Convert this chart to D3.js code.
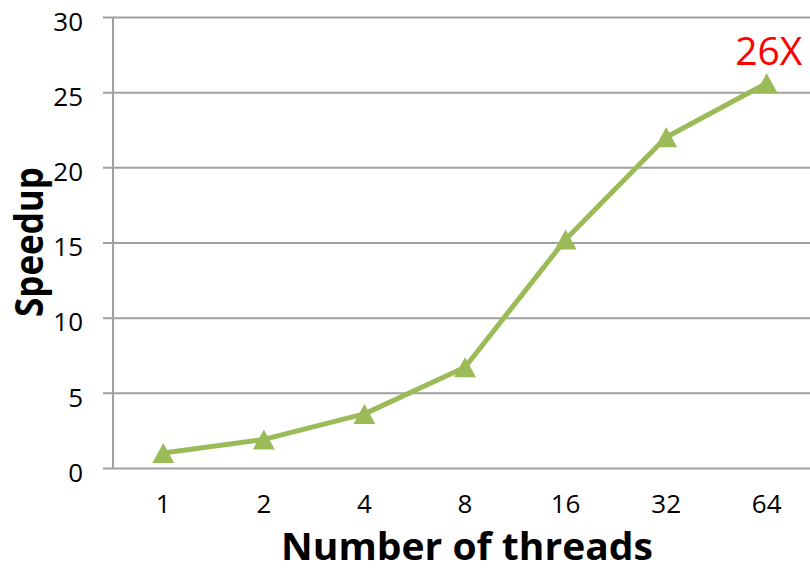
<!DOCTYPE html>
<html>
<head>
<meta charset="utf-8">
<script src="https://cdn.jsdelivr.net/npm/d3@7"></script>
<style>
  html, body { margin: 0; padding: 0; background: #fff; }
  svg { display: block; }
</style>
</head>
<body>
<svg id="chart" width="810" height="571"></svg>
<script>
const categories = ["1", "2", "4", "8", "16", "32", "64"];
const speedup = [1.0, 1.9, 3.6, 6.7, 15.2, 22.0, 25.6];
const yTicks = [0, 5, 10, 15, 20, 25, 30];
const xTitle = "Number of threads";
const yTitle = "Speedup";
const annotation = "26X";

(function () {
const svg = d3.select("#chart");
const W = 810, H = 571;
const mLeft = 113, mRight = 817, mTop = 17, mBottom = 468;
const font = "'Open Sans', 'DejaVu Sans', sans-serif";
const green = "#9BBB59";
const grid = "#A0A0A0";

const x = d3.scaleBand().domain(categories).range([mLeft, mRight]).padding(0);
const y = d3.scaleLinear().domain([0, 30]).range([mBottom, mTop]);

// gridlines via axis
const yAxis = d3.axisLeft(y).tickValues(yTicks).tickSize(-(W - mLeft)).tickPadding(30).tickFormat(d3.format("d"));
const gy = svg.append("g").attr("transform", `translate(${mLeft},0)`).call(yAxis);
gy.select(".domain").remove();
gy.selectAll(".tick line").attr("stroke", grid).attr("stroke-width", 2).attr("x1", -10);
gy.selectAll(".tick text")
  .attr("font-family", font).attr("font-size", 26).attr("fill", "#000")
  .attr("dy", "0.72em").attr("y", -5.5);

// y axis line
svg.append("line").attr("x1", mLeft).attr("x2", mLeft).attr("y1", y(30)).attr("y2", y(0))
  .attr("stroke", grid).attr("stroke-width", 2);

// x axis labels
const xAxis = d3.axisBottom(x).tickSize(0).tickPadding(26);
const gx = svg.append("g").attr("transform", `translate(0,${mBottom})`).call(xAxis);
gx.select(".domain").remove();
gx.selectAll(".tick text").attr("font-family", font).attr("font-size", 26).attr("fill", "#000")
  .attr("dy", "0.72em");

// line
const data = categories.map((c, i) => ({ c, v: speedup[i] }));
const line = d3.line().x(d => x(d.c) + x.bandwidth() / 2).y(d => y(d.v));
svg.append("path").datum(data).attr("d", line)
  .attr("fill", "none").attr("stroke", green).attr("stroke-width", 5).attr("stroke-linejoin", "round");

// triangle markers
const tw = 22, th = 20;
svg.selectAll("path.marker").data(data).enter().append("path")
  .attr("class", "marker")
  .attr("d", d => {
    const cx = x(d.c) + x.bandwidth() / 2, cy = y(d.v);
    return `M${cx},${cy - th / 2}L${cx + tw / 2},${cy + th / 2}L${cx - tw / 2},${cy + th / 2}Z`;
  })
  .attr("fill", green);

// annotation
const last = data[data.length - 1];
svg.append("text")
  .attr("x", x(last.c) + x.bandwidth() / 2 + 2)
  .attr("y", 65)
  .attr("text-anchor", "middle")
  .attr("font-family", font).attr("font-size", 39).attr("fill", "#FF0000")
  .text(annotation);

// axis titles
svg.append("text")
  .attr("x", 281).attr("y", 560)
  .attr("font-family", font).attr("font-weight", "bold").attr("font-size", 37).attr("fill", "#000")
  .attr("textLength", 372).attr("lengthAdjust", "spacingAndGlyphs")
  .text(xTitle);

svg.append("text")
  .attr("transform", "translate(43,317) rotate(-90)")
  .attr("x", 0).attr("y", 0)
  .attr("font-family", font).attr("font-weight", "bold").attr("font-size", 40).attr("fill", "#000")
  .attr("textLength", 150).attr("lengthAdjust", "spacingAndGlyphs")
  .text(yTitle);
})();
</script>
</body>
</html>
